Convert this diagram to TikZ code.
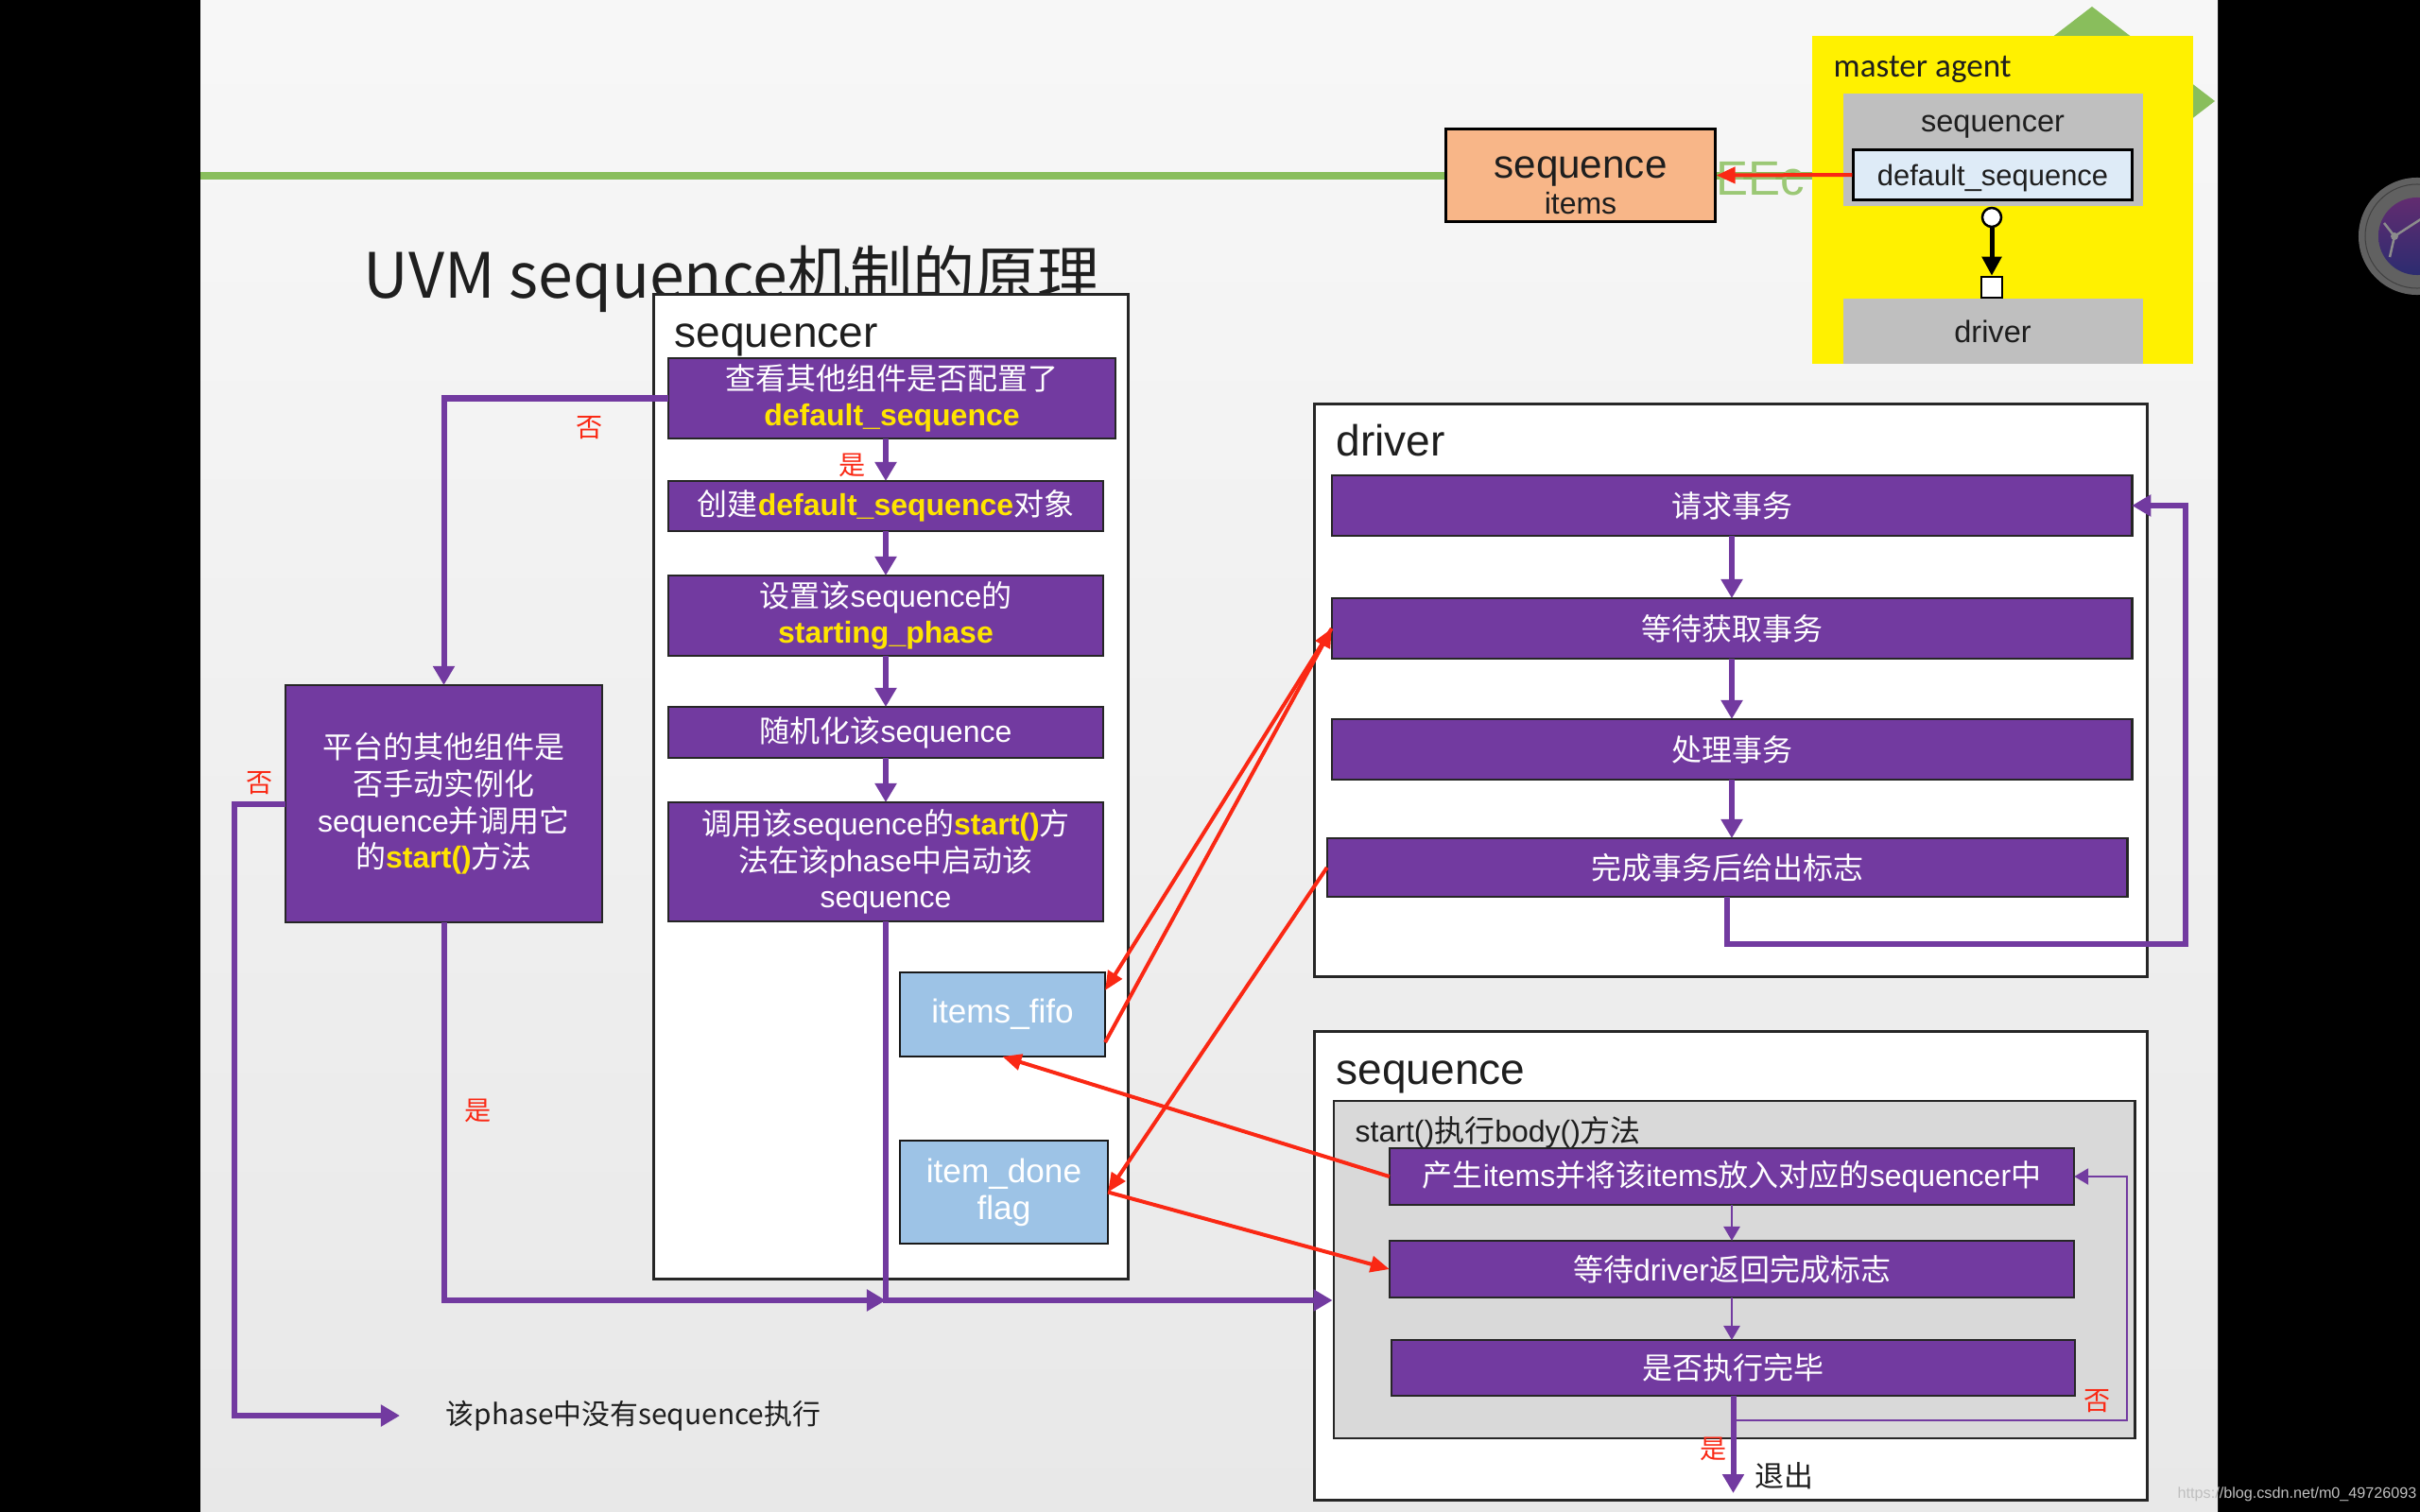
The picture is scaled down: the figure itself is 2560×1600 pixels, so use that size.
\documentclass[tikz,border=0pt]{standalone}
\usepackage{fontspec}
\setmainfont{Noto Sans CJK SC}
\newfontfamily\arialfont{Liberation Sans}
\newfontfamily\calfont{Carlito}
\usetikzlibrary{arrows.meta,shapes.geometric}
\definecolor{pur}{RGB}{114,58,160}
\definecolor{hly}{RGB}{255,228,0}
\definecolor{lblue}{RGB}{157,195,230}
\definecolor{pblue}{RGB}{222,235,247}
\definecolor{orng}{RGB}{248,182,136}
\definecolor{ylw}{RGB}{255,241,0}
\definecolor{gry}{RGB}{191,191,191}
\definecolor{lgry}{RGB}{217,217,217}
\definecolor{rd}{RGB}{250,40,20}
\definecolor{grn}{RGB}{137,190,92}
\definecolor{txt}{RGB}{30,30,30}
\newcommand\ltn[1]{{\arialfont #1}}
\newcommand\hly[1]{{\arialfont\bfseries\color{hly}#1}}
\tikzset{
 pbox/.style={draw=black!85, line width=0.025cm, fill=pur, text=white, inner sep=0pt, outer sep=0pt, align=center, font=\fontsize{9.1pt}{11pt}\selectfont},
 bbox/.style={draw=black!90, line width=0.025cm, fill=lblue, text=white, inner sep=0pt, outer sep=0pt, align=center, font=\arialfont\fontsize{10pt}{11.1pt}\selectfont},
 cont/.style={draw=black!85, line width=0.03cm, fill=white, inner sep=0pt, outer sep=0pt},
 biglbl/.style={anchor=base west, inner sep=0pt, text=txt, font=\arialfont\fontsize{13.1pt}{15pt}\selectfont},
 parrow/.style={draw=pur, line width=0.06cm, -{Triangle[length=0.2cm,width=0.22cm]}},
 tarrow/.style={draw=pur, line width=0.025cm, -{Triangle[length=0.15cm,width=0.17cm]}},
 rarrow/.style={draw=rd, line width=0.04cm, -{Triangle[length=0.2cm,width=0.17cm]}},
 yn/.style={text=rd, inner sep=0pt, font=\fontsize{8pt}{9pt}\selectfont},
 plain/.style={inner sep=0pt, text=txt},
}
\begin{document}
\begin{tikzpicture}[x=0.01cm,y=-0.01cm]
\useasboundingbox (0,0) rectangle (2560,1600);
% background
\fill[black] (0,0) rectangle (2560,1600);
\shade[top color=white!97!black, bottom color=white!91!black] (212,0) rectangle (2346,1600);
% slide decorations
\draw[grn, line width=0.08cm] (212,186) -- (1917,186);
\fill[grn] (2213,7) -- (2343,107) -- (2213,207) -- (2083,107) -- cycle;
\node[anchor=base west, inner sep=0pt, text=grn!85!white, font=\arialfont\fontsize{14.5pt}{16pt}\selectfont] (eec) at (1815,207) {EEc};
\node[anchor=base west, inner sep=0pt, text=black!88, font=\fontsize{18.8pt}{22pt}\selectfont] (title) at (384,315) {UVM sequence机制的原理};

% top right agent
\node[draw=black, line width=0.03cm, fill=orng, minimum width=2.84cm, minimum height=0.97cm, inner sep=0pt] (items) at (1672,185.5) {};
\node[anchor=base, plain, font=\arialfont\fontsize{12pt}{14pt}\selectfont] (itemsa) at (1672,189) {sequence};
\node[anchor=base, plain, font=\arialfont\fontsize{9.1pt}{11pt}\selectfont] (itemsb) at (1672,227) {items};
\node[fill=ylw, minimum width=4.03cm, minimum height=3.47cm, inner sep=0pt] (agent) at (2118.5,211.5) {};
\node[anchor=base west, plain, font=\calfont\fontsize{10pt}{12pt}\selectfont] (agentl) at (1939,82) {master agent};
\node[fill=gry, inner sep=0pt, minimum width=3.17cm, minimum height=1.19cm] (tseq) at (2108.5,158.5) {};
\node[anchor=base, plain, font=\arialfont\fontsize{9.25pt}{11pt}\selectfont] (tseql) at (2108,140) {sequencer};
\node[draw=black, line width=0.03cm, fill=pblue, inner sep=0pt, minimum width=2.94cm, minimum height=0.52cm] (dseq) at (2108,185) {};
\node[anchor=base, plain, font=\arialfont\fontsize{8.8pt}{10pt}\selectfont] (dseql) at (2108,196) {default\_sequence};
\node[fill=gry, inner sep=0pt, minimum width=3.17cm, minimum height=0.69cm] (tdrv) at (2108.5,350.5) {};
\node[anchor=base, plain, font=\arialfont\fontsize{9.25pt}{11pt}\selectfont] (tdrvl) at (2108,363) {driver};
\node[circle, draw=black, line width=0.025cm, fill=white, minimum size=0.2cm, inner sep=0pt] (circ) at (2107,230) {};
\node[draw=black, line width=0.025cm, fill=white, minimum size=0.22cm, inner sep=0pt] (sqr) at (2107,304) {};
\draw[line width=0.05cm, -{Triangle[length=0.2cm,width=0.2cm]}] (circ.south) -- (sqr.north);
\draw[rarrow] (dseq.west) -- (items.east);

% sequencer container
\node[cont, minimum width=5.01cm, minimum height=10.41cm] (seqr) at (942.5,832.5) {};
\node[biglbl] (seqrl) at (713,367) {sequencer};
\node[pbox, minimum width=4.73cm, minimum height=0.85cm] (b1) at (943.5,421.5) {查看其他组件是否配置了\\\hly{default\_sequence}};
\node[pbox, minimum width=4.60cm, minimum height=0.53cm] (b2) at (937,535.5) {创建\hly{default\_sequence}对象};
\node[pbox, minimum width=4.60cm, minimum height=0.85cm] (b3) at (937,651.5) {设置该\ltn{sequence}的\\\hly{starting\_phase}};
\node[pbox, minimum width=4.60cm, minimum height=0.54cm] (b4) at (937,775) {随机化该\ltn{sequence}};
\node[pbox, minimum width=4.60cm, minimum height=1.26cm] (b5) at (937,912) {调用该\ltn{sequence}的\hly{start()}方\\法在该\ltn{phase}中启动该\\\ltn{sequence}};
\node[bbox, minimum width=2.17cm, minimum height=0.89cm] (fifo) at (1060.5,1073.5) {items\_fifo};
\node[bbox, minimum width=2.20cm, minimum height=1.09cm] (done) at (1062,1261.5) {item\_done\\flag};

% left decision box
\node[pbox, minimum width=3.35cm, minimum height=2.51cm] (lb) at (469.5,850.5) {平台的其他组件是\\否手动实例化\\\ltn{sequence}并调用它\\的\hly{start()}方法};
\node[anchor=west, inner sep=0pt, inner xsep=0.24cm, text=txt, font=\fontsize{8.5pt}{10pt}\selectfont] (noseq) at (447,1498) {该phase中没有sequence执行};

% driver container
\node[cont, minimum width=8.80cm, minimum height=6.05cm] (drv) at (1831,730.5) {};
\node[biglbl] (drvl) at (1413,482) {driver};
\node[pbox, minimum width=8.46cm, minimum height=0.64cm] (d1) at (1832,535) {请求事务};
\node[pbox, minimum width=8.46cm, minimum height=0.64cm] (d2) at (1832,665) {等待获取事务};
\node[pbox, minimum width=8.46cm, minimum height=0.64cm] (d3) at (1832,793) {处理事务};
\node[pbox, minimum width=8.46cm, minimum height=0.62cm] (d4) at (1827,918) {完成事务后给出标志};

% sequence container
\node[cont, minimum width=8.80cm, minimum height=4.95cm] (sq) at (1831,1339.5) {};
\node[biglbl] (sql) at (1413,1147) {sequence};
\node[draw=black!85, line width=0.025cm, fill=lgry, inner sep=0pt, minimum width=8.47cm, minimum height=3.57cm] (body) at (1834.5,1343.5) {};
\node[anchor=base west, plain, font=\fontsize{9.1pt}{11pt}\selectfont] (bodyl) at (1433,1208) {\ltn{start()}执行\ltn{body()}方法};
\node[pbox, minimum width=7.24cm, minimum height=0.60cm] (s1) at (1832,1245) {产生\ltn{items}并将该\ltn{items}放入对应的\ltn{sequencer}中};
\node[pbox, minimum width=7.24cm, minimum height=0.60cm] (s2) at (1832,1343) {等待\ltn{driver}返回完成标志};
\node[pbox, minimum width=7.23cm, minimum height=0.59cm] (s3) at (1833.5,1447.5) {是否执行完毕};

% purple connectors, sequencer side
\draw[parrow] (b1.west) -| (lb.north);
\node[yn] (n1) at (624,453) {否};
\draw[parrow] (b1.south -| b2.north) -- (b2.north);
\node[yn] (y1) at (902,492) {是};
\draw[parrow] (b2) -- (b3);
\draw[parrow] (b3) -- (b4);
\draw[parrow] (b4) -- (b5);
\coordinate (jn) at (937,1376);
\draw[parrow] (lb.south) |- (jn);
\node[yn] (y2) at (506,1175) {是};
\draw[parrow] (b5.south) -- (jn) -- (jn -| body.west);
\draw[parrow] (lb.west) -- ++(-54,0) |- ([xshift=-0.24cm]noseq.west);
\node[yn] (n2) at (275,829) {否};

% driver connectors
\draw[parrow] (d1) -- (d2);
\draw[parrow] (d2) -- (d3);
\draw[parrow] (d3.south) -- (d3.south |- d4.north);
\coordinate (dl) at (2312,999);
\draw[parrow] (d4.south) |- (dl) |- (d1.east);

% sequence connectors
\draw[tarrow] (s1) -- (s2);
\draw[tarrow] (s2.south) -- (s2.south |- s3.north);
\coordinate (sl) at (2250,1503);
\draw[tarrow] (s3.south) |- (sl) |- (s1.east);
\coordinate (ex) at (1836,1580);
\draw[parrow] (s3.south) -- (s3.south |- ex);
\node[yn] (n3) at (2219,1483) {否};
\node[yn] (y3) at (1813,1533) {是};
\node[anchor=west, plain, font=\fontsize{8.8pt}{10pt}\selectfont] (quit) at (1856,1562) {退出};

% red data-flow arrows
\draw[rarrow] (d2.west) -- ([yshift=-0.19cm]fifo.north east);
\draw[rarrow] ([yshift=0.15cm]fifo.south east) -- (d2.west);
\draw[rarrow] (d4.west) -- (done.east);
\draw[rarrow] (s1.west) -- (fifo.south);
\draw[rarrow] (done.east) -- (s2.west);

% corner icon and watermark
\fill[black!62] (2557,250) circle[radius=0.62cm];
\draw[black!75, line width=0.01cm] (2557,250) circle[radius=0.55cm];
\shade[top color={rgb,255:red,98;green,44;blue,112}, bottom color={rgb,255:red,44;green,44;blue,112}] (2557,250) circle[radius=0.41cm];
\draw[black!45, line width=0.025cm] (2522,236) -- (2533,250) -- (2528,272) (2533,250) -- (2570,226);
\fill[black!45] (2533,250) circle[radius=0.04cm];
\node[anchor=base west, inner sep=0pt, text=white!75!black, font=\arialfont\fontsize{4.6pt}{5pt}\selectfont] (wm) at (2303,1585) {https://blog.csdn.net/m0\_49726093};
\end{tikzpicture}
\end{document}
